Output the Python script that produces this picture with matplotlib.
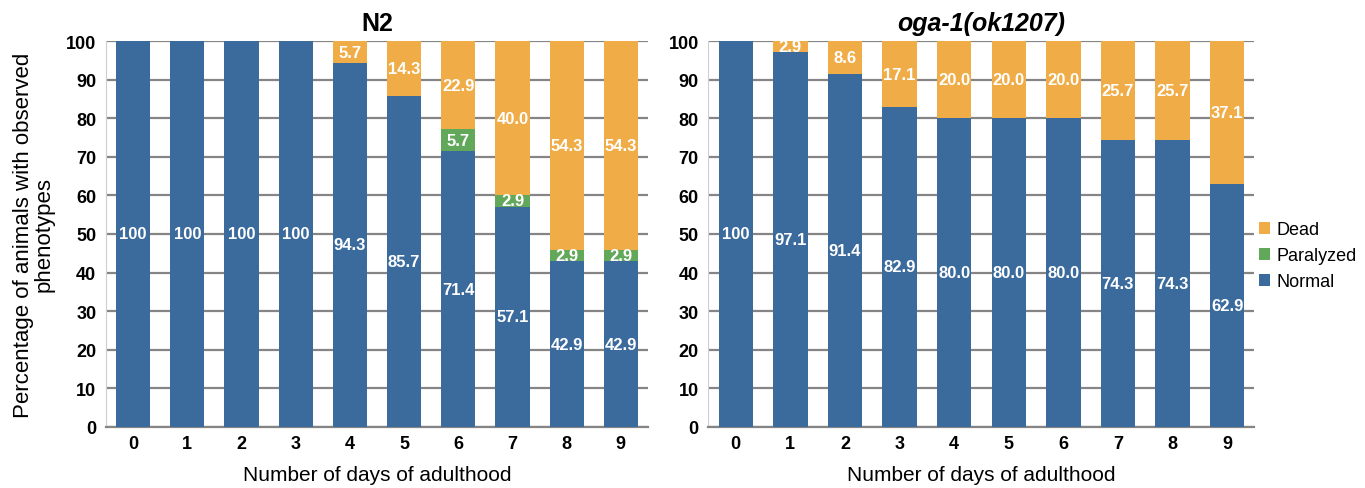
import matplotlib
matplotlib.use("Agg")
from matplotlib import pyplot as plt
import numpy as np

days = [0, 1, 2, 3, 4, 5, 6, 7, 8, 9]

# N2
n2_normal = [100, 100, 100, 100, 94.3, 85.7, 71.4, 57.1, 42.9, 42.9]
n2_paralyzed = [0, 0, 0, 0, 0, 0, 5.7, 2.9, 2.9, 2.9]
n2_dead = [0, 0, 0, 0, 5.7, 14.3, 22.9, 40.0, 54.3, 54.3]

# oga-1(ok1207)
oga_normal = [100, 97.1, 91.4, 82.9, 80.0, 80.0, 80.0, 74.3, 74.3, 62.9]
oga_paralyzed = [0, 0, 0, 0, 0, 0, 0, 0, 0, 0]
oga_dead = [0, 2.9, 8.6, 17.1, 20.0, 20.0, 20.0, 25.7, 25.7, 37.1]

c_normal = '#3b6a9d'
c_paral = '#62a85a'
c_dead = '#f0ad47'

plt.rcParams['font.family'] = ['Liberation Sans', 'DejaVu Sans']

fig = plt.figure(figsize=(13.65, 4.89), dpi=100)
ax1 = fig.add_axes([0.0777, 0.125, 0.397, 0.789])
ax2 = fig.add_axes([0.519, 0.125, 0.400, 0.789])


def fmt(v):
    return '100' if v == 100 else '%.1f' % v


def draw(ax, normal, paral, dead, title, style):
    x = np.array(days)
    normal = np.array(normal)
    paral = np.array(paral)
    dead = np.array(dead)
    w = 0.63
    ax.bar(x, normal, w, color=c_normal, label='Normal', zorder=3)
    ax.bar(x, paral, w, bottom=normal, color=c_paral, label='Paralyzed', zorder=3)
    ax.bar(x, dead, w, bottom=normal + paral, color=c_dead, label='Dead', zorder=3)
    kw = dict(ha='center', va='center', color='white', fontsize=12,
              fontweight='bold', zorder=4)
    for i in range(len(x)):
        ax.text(x[i], normal[i] / 2, fmt(normal[i]), **kw)
        if paral[i] > 0:
            ax.text(x[i], normal[i] + paral[i] / 2, fmt(paral[i]), **kw)
        if dead[i] > 0:
            ax.text(x[i], normal[i] + paral[i] + dead[i] / 2, fmt(dead[i]), **kw)
    ax.set_xlim(-0.5, 9.5)
    ax.set_ylim(0, 100)
    ax.set_yticks(range(0, 101, 10))
    ax.set_xticks(x)
    ax.yaxis.grid(True, color='#858585', linewidth=1.6, zorder=0)
    ax.set_axisbelow(True)
    for s in ['top', 'right']:
        ax.spines[s].set_visible(False)
    ax.spines['left'].set_color('#cfcfcf')
    ax.spines['bottom'].set_color('#858585')
    ax.spines['bottom'].set_linewidth(1.6)
    ax.tick_params(length=0, labelsize=13)
    ax.tick_params(axis='y', pad=7)
    ax.tick_params(axis='x', pad=6)
    for lab in ax.get_xticklabels() + ax.get_yticklabels():
        lab.set_fontweight('bold')
    ax.set_xlabel('Number of days of adulthood', fontsize=15, labelpad=9)
    ax.set_title(title, fontsize=18, fontweight='bold', fontstyle=style, pad=8)


draw(ax1, n2_normal, n2_paralyzed, n2_dead, 'N2', 'normal')
draw(ax2, oga_normal, oga_paralyzed, oga_dead, 'oga-1(ok1207)', 'italic')

ax1.set_ylabel('Percentage of animals with observed\nphenotypes', fontsize=16,
               labelpad=8, linespacing=1.0)

handles, labels = ax2.get_legend_handles_labels()
ax2.legend(handles[::-1], labels[::-1], loc='center left', bbox_to_anchor=(0.985, 0.443),
           frameon=False, fontsize=13, handlelength=0.6, handleheight=0.6,
           handletextpad=0.4, labelspacing=0.5, borderpad=0.2)

plt.savefig('out.png', dpi=100)
